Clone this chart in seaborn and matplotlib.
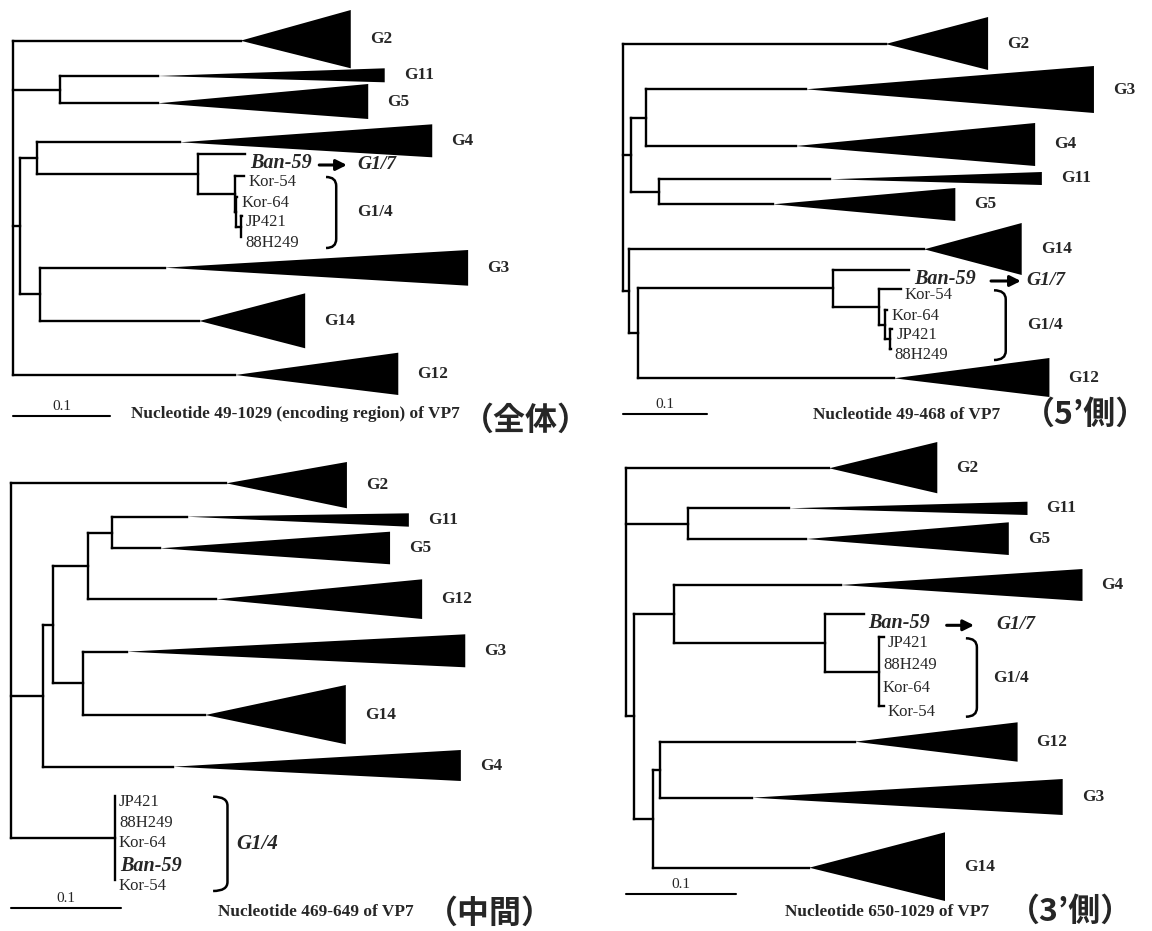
import numpy as np
import pandas as pd
import matplotlib
matplotlib.use("Agg")
import matplotlib.pyplot as plt
from matplotlib.path import Path
from matplotlib.patches import PathPatch
import seaborn as sns

sns.set_theme(style="white")
plt.rcParams["font.family"] = ["Liberation Serif", "DejaVu Serif"]
CJK = ["Noto Sans CJK JP", "DejaVu Sans"]

# ---------------- data ----------------
# depths are distances from the root (substitutions / site), rows are vertical slots
scale_bar_length = 0.1

# panel 1 : nucleotide 49-1029 (whole coding region)
p1_node = ["root", "A", "B", "C", "D", "E", "F", "G", "H"]
p1_node_parent = [None, "root", "root", "B", "B", "C", "E", "F", "G"]
p1_node_depth = [0.0, 0.048, 0.0072, 0.0242, 0.0273, 0.191, 0.2288, 0.2299, 0.2344]
p1_clade = ["G2", "G11", "G5", "G4", "G3", "G14", "G12"]
p1_clade_parent = ["root", "A", "A", "C", "D", "D", "root"]
p1_clade_start = [0.2344, 0.149, 0.149, 0.172, 0.156, 0.192, 0.229]
p1_clade_end = [0.348, 0.383, 0.366, 0.432, 0.469, 0.301, 0.397]
p1_clade_row = [40.7, 76, 103.3, 142.3, 267.7, 321, 375]
p1_clade_top = [10, 68.3, 84, 124.3, 250, 293.3, 352.7]
p1_clade_bot = [68.3, 82.3, 119, 157.3, 285.7, 348.3, 395]
p1_leaf = ["Ban-59", "Kor-54", "Kor-64", "JP421", "88H249"]
p1_leaf_parent = ["E", "F", "G", "H", "H"]
p1_leaf_depth = [0.239, 0.238, 0.2312, 0.236, 0.235]
p1_leaf_row = [154, 176, 197, 216, 237]

# panel 2 : nucleotide 49-468 (5' side)
p2_node = ["root", "N1", "P", "Q", "N2", "R", "S", "T", "U", "V"]
p2_node_parent = [None, "root", "N1", "N1", "root", "N2", "R", "S", "T", "U"]
p2_node_depth = [0.0, 0.0099, 0.0277, 0.0429, 0.0079, 0.0179, 0.25, 0.305, 0.312, 0.318]
p2_clade = ["G2", "G3", "G4", "G11", "G5", "G14", "G12"]
p2_clade_parent = ["root", "P", "P", "Q", "Q", "N2", "R"]
p2_clade_start = [0.313, 0.218, 0.206, 0.247, 0.179, 0.359, 0.323]
p2_clade_end = [0.435, 0.561, 0.491, 0.499, 0.396, 0.475, 0.508]
p2_clade_row = [44, 89.3, 146, 179.3, 204.3, 249.3, 378.3]
p2_clade_top = [17, 66, 123, 172, 188, 223, 358]
p2_clade_bot = [70, 113, 166, 185, 221, 275, 397]
p2_leaf = ["Ban-59", "Kor-54", "Kor-64", "JP421", "88H249"]
p2_leaf_parent = ["S", "T", "U", "V", "V"]
p2_leaf_depth = [0.341, 0.331, 0.315, 0.321, 0.319]
p2_leaf_row = [270, 289.3, 310, 329, 349]

# panel 3 : nucleotide 469-649 (middle)
p3_node = ["root", "X", "Y", "Z", "W", "Z2", "K"]
p3_node_parent = [None, "root", "X", "Y", "Y", "Z", "root"]
p3_node_depth = [0.0, 0.0295, 0.0385, 0.0702, 0.0651, 0.0913, 0.0943]
p3_clade = ["G2", "G11", "G5", "G12", "G3", "G14", "G4"]
p3_clade_parent = ["root", "Z2", "Z2", "Z", "W", "W", "X"]
p3_clade_start = [0.195, 0.159, 0.135, 0.186, 0.105, 0.176, 0.147]
p3_clade_end = [0.304, 0.36, 0.343, 0.372, 0.411, 0.303, 0.407]
p3_clade_row = [18.3, 51.7, 83.3, 134.3, 186.7, 250, 301.7]
p3_clade_top = [-3, 48.3, 66.7, 114.3, 169.3, 220, 285]
p3_clade_bot = [43.3, 61.7, 99.3, 154, 202.3, 279.3, 316]
p3_leaf = ["JP421", "88H249", "Kor-64", "Ban-59", "Kor-54"]
p3_leaf_parent = ["K", "K", "K", "K", "K"]
p3_leaf_depth = [0.0943, 0.0943, 0.0943, 0.0943, 0.0943]
p3_leaf_row = [330.7, 351.7, 372.3, 392, 415]

# panel 4 : nucleotide 650-1029 (3' side)
p4_node = ["root", "A4", "B4", "C4", "E4", "F4", "D4", "H4"]
p4_node_parent = [None, "root", "root", "B4", "C4", "E4", "B4", "D4"]
p4_node_depth = [0.0, 0.0564, 0.0075, 0.0439, 0.1812, 0.23, 0.0248, 0.0309]
p4_clade = ["G2", "G11", "G5", "G4", "G12", "G3", "G14"]
p4_clade_parent = ["root", "A4", "A4", "C4", "H4", "H4", "D4"]
p4_clade_start = [0.1848, 0.148, 0.164, 0.195, 0.208, 0.1145, 0.1666]
p4_clade_end = [0.283, 0.365, 0.348, 0.415, 0.356, 0.397, 0.29]
p4_clade_row = [3.3, 43.3, 74, 120, 276.7, 332.7, 402.7]
p4_clade_top = [-23, 36.7, 57.3, 104, 257.3, 314, 367.3]
p4_clade_bot = [28.3, 50, 90, 136, 296.7, 350, 436]
p4_leaf = ["Ban-59", "JP421", "88H249", "Kor-64", "Kor-54"]
p4_leaf_parent = ["E4", "F4", "F4", "F4", "F4"]
p4_leaf_depth = [0.216, 0.2345, 0.23, 0.23, 0.2345]
p4_leaf_row = [149.3, 172.3, 194, 217.3, 240.7]

captions = ["Nucleotide 49-1029 (encoding region) of VP7", "Nucleotide 49-468 of VP7",
            "Nucleotide 469-649 of VP7", "Nucleotide 650-1029 of VP7"]
region_tags = ["（全体）", "（5’側）", "（中間）", "（3’側）"]

# ---------------- drawing ----------------
W, H = 1152, 931
fig = plt.figure(figsize=(W / 100, H / 100), dpi=100)


def draw_tree(ax, scale, nodes, clades, leaves, lay):
    n_name, n_parent, n_depth = nodes
    c_name, c_parent, c_start, c_end, c_row, c_top, c_bot = clades
    l_name, l_parent, l_depth, l_row = leaves
    depth = dict(zip(n_name, n_depth))
    kids = {n: [] for n in n_name}
    ys = {}
    for n, p, r in zip(c_name, c_parent, c_row):
        kids[p].append(n)
        ys[n] = r
    for n, p, r in zip(l_name, l_parent, l_row):
        kids[p].append(n)
        ys[n] = r
    for n, p in zip(n_name, n_parent):
        if p is not None:
            kids[p].append(n)

    def node_y(n):
        if n not in ys:
            cy = [node_y(c) for c in kids[n]]
            ys[n] = (min(cy) + max(cy)) / 2
        return ys[n]

    node_y("root")

    segs = []
    def add(x0, y0, x1, y1):
        k = len(segs) // 2
        segs.append((k, x0, y0))
        segs.append((k, x1, y1))

    for n, p in zip(n_name, n_parent):
        cy = [ys[c] for c in kids[n]]
        add(depth[n], min(cy), depth[n], max(cy))
        if p is not None:
            add(depth[p], ys[n], depth[n], ys[n])
    for n, p, s in zip(c_name, c_parent, c_start):
        add(depth[p], ys[n], s, ys[n])
    for n, p, d in zip(l_name, l_parent, l_depth):
        if d > depth[p]:
            add(depth[p], ys[n], d, ys[n])
    df = pd.DataFrame(segs, columns=["seg", "x", "y"])
    sns.lineplot(data=df, x="x", y="y", units="seg", estimator=None, sort=False,
                 color="black", lw=1.7, ax=ax, legend=False, solid_capstyle="projecting")

    px = 1.0 / scale  # one pixel in depth units
    for n, s, e, r, t, b in zip(c_name, c_start, c_end, c_row, c_top, c_bot):
        ax.fill([s, e, e], [r, t, b], color="black", lw=0, clip_on=False)
        ax.text(e + 19 * px, (t + b) / 2, n, fontsize=12.4, fontweight="bold",
                va="center", ha="left")

    text_y = {}
    for n, d, r in zip(l_name, l_depth, l_row):
        if n == "Ban-59":
            text_y[n] = r + 9
            ax.text(d + 5 * px, text_y[n], n, fontsize=14.5, fontweight="bold",
                    style="italic", va="center", ha="left")
        else:
            text_y[n] = r + 6
            ax.text(d + 4 * px, text_y[n], n, fontsize=12, va="center", ha="left")

    if lay["arrow"] is not None:
        a0, a1 = lay["arrow"]
        ay = text_y["Ban-59"] + 2
        ax.annotate("", xy=(a1, ay), xytext=(a0, ay),
                    arrowprops=dict(arrowstyle="-|>", lw=2.2, color="black",
                                    mutation_scale=16, shrinkA=0, shrinkB=0))
        ax.text(lay["g17"], text_y["Ban-59"] + 1.5, "G1/7", fontsize=14,
                fontweight="bold", style="italic", va="center", ha="left")
        group = [n for n in l_name if n != "Ban-59"]
    else:
        group = list(l_name)

    top = min(text_y[n] for n in group) - 5
    bot = max(text_y[n] for n in group) + 5
    x0, x1 = lay["bracket"]
    r = 9
    verts = [(x0, top), (x1, top), (x1, top + r), (x1, bot - r), (x1, bot), (x0, bot)]
    codes = [Path.MOVETO, Path.CURVE3, Path.CURVE3, Path.LINETO, Path.CURVE3, Path.CURVE3]
    ax.add_patch(PathPatch(Path(verts, codes), fill=False, lw=1.8, color="black",
                           clip_on=False))
    ax.text(lay["g14"], (top + bot) / 2, "G1/4", fontsize=lay["g14_size"],
            fontweight="bold", style=lay["g14_style"], va="center", ha="left")

    by = lay["bar_y"]
    ax.plot([0, scale_bar_length], [by, by], color="black", lw=1.5)
    ax.text(scale_bar_length / 2, by - 3, "0.1", fontsize=11, ha="center", va="bottom")


panels = [
    dict(box=(0, 0, 576, 465), root=13.2, scale=970,
         nodes=(p1_node, p1_node_parent, p1_node_depth),
         clades=(p1_clade, p1_clade_parent, p1_clade_start, p1_clade_end,
                 p1_clade_row, p1_clade_top, p1_clade_bot),
         leaves=(p1_leaf, p1_leaf_parent, p1_leaf_depth, p1_leaf_row),
         lay=dict(arrow=(0.3155, 0.344), g17=0.355, bracket=(0.3225, 0.333), g14=0.3544,
                  g14_size=12.4, g14_style="normal", bar_y=416),
         cap=(131, 414), tag=(526, 421)),
    dict(box=(576, 0, 576, 465), root=622.7, scale=840,
         nodes=(p2_node, p2_node_parent, p2_node_depth),
         clades=(p2_clade, p2_clade_parent, p2_clade_start, p2_clade_end,
                 p2_clade_row, p2_clade_top, p2_clade_bot),
         leaves=(p2_leaf, p2_leaf_parent, p2_leaf_depth, p2_leaf_row),
         lay=dict(arrow=(0.4385, 0.474), g17=0.480, bracket=(0.442, 0.456), g14=0.481,
                  g14_size=12.4, g14_style="normal", bar_y=414),
         cap=(812.7, 415), tag=(1085, 415)),
    dict(box=(0, 465, 576, 466), root=10.7, scale=1106,
         nodes=(p3_node, p3_node_parent, p3_node_depth),
         clades=(p3_clade, p3_clade_parent, p3_clade_start, p3_clade_end,
                 p3_clade_row, p3_clade_top, p3_clade_bot),
         leaves=(p3_leaf, p3_leaf_parent, p3_leaf_depth, p3_leaf_row),
         lay=dict(arrow=None, g17=None, bracket=(0.183, 0.196), g14=0.204,
                  g14_size=15, g14_style="italic", bar_y=442.7),
         cap=(217.5, 911.7), tag=(490, 914)),
    dict(box=(576, 465, 576, 466), root=626, scale=1100,
         nodes=(p4_node, p4_node_parent, p4_node_depth),
         clades=(p4_clade, p4_clade_parent, p4_clade_start, p4_clade_end,
                 p4_clade_row, p4_clade_top, p4_clade_bot),
         leaves=(p4_leaf, p4_leaf_parent, p4_leaf_depth, p4_leaf_row),
         lay=dict(arrow=(0.2915, 0.3164), g17=0.337, bracket=(0.309, 0.319), g14=0.334,
                  g14_size=12.4, g14_style="normal", bar_y=429.3),
         cap=(785.3, 911.7), tag=(1070, 912)),
]

for pan, cap, tag in zip(panels, captions, region_tags):
    x0, y0, w, h = pan["box"]
    ax = fig.add_axes([x0 / W, 1 - (y0 + h) / H, w / W, h / H])
    draw_tree(ax, pan["scale"], pan["nodes"], pan["clades"], pan["leaves"], pan["lay"])
    ax.set_xlim((x0 - pan["root"]) / pan["scale"], (x0 + w - pan["root"]) / pan["scale"])
    ax.set_ylim(h, 0)
    ax.axis("off")
    ax.patch.set_alpha(0)
    cx, cy = pan["cap"]
    fig.text(cx / W, 1 - cy / H, cap, fontsize=12.4, fontweight="bold",
             ha="left", va="center")
    tx, ty = pan["tag"]
    fig.text(tx / W, 1 - ty / H, tag, fontsize=23, fontweight="bold",
             family=CJK, ha="center", va="center")

fig.savefig("out.png", dpi=100, facecolor="white")
